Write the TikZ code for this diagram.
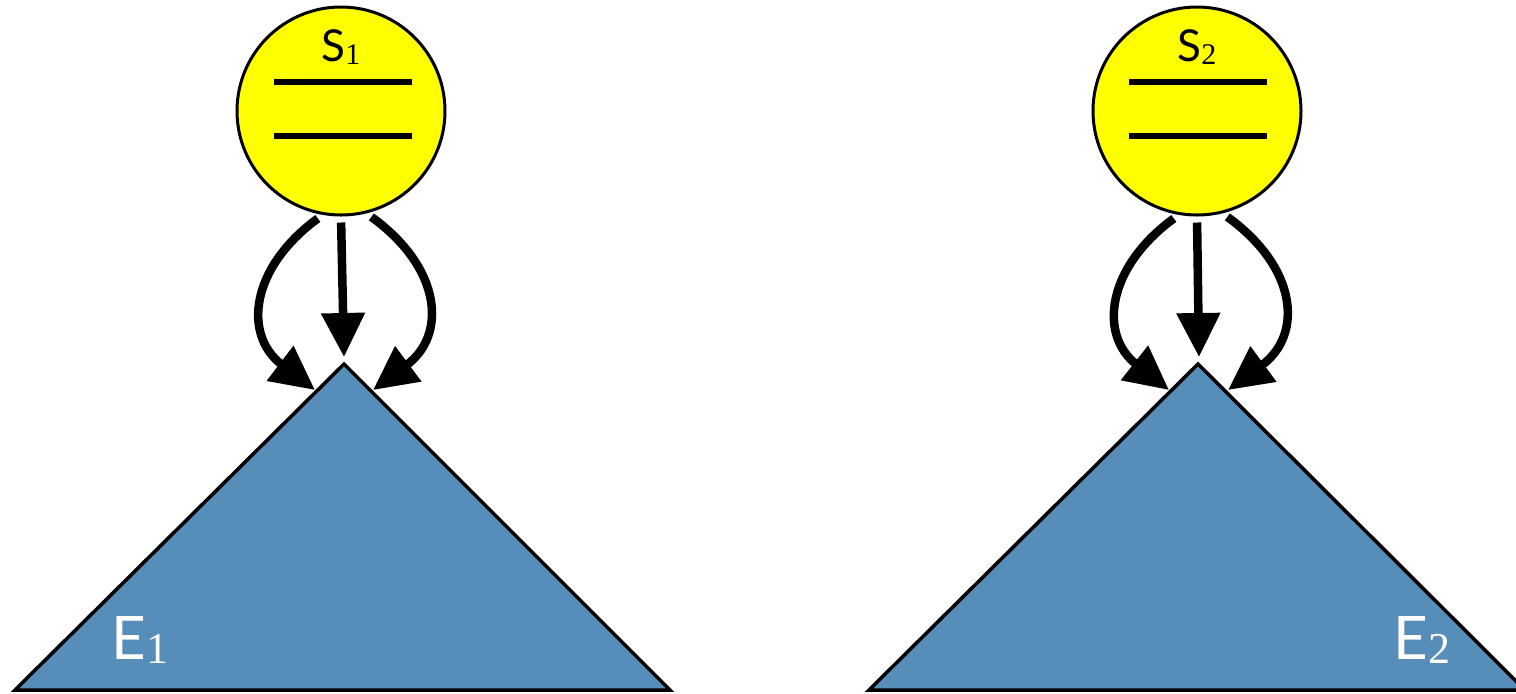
\documentclass[tikz,border=0pt]{standalone}
\usepackage{fontspec}
\usetikzlibrary{arrows.meta}
\newfontfamily\labelfont{Lato}
\newfontfamily\indexfont{Liberation Serif}
\definecolor{sunyellow}{RGB}{255,255,0}
\definecolor{treeblue}{RGB}{87,142,185}
\newcommand{\lowidx}[2]{\raisebox{-0.08em}{\indexfont\fontsize{#1}{#1}\selectfont #2}}

\begin{document}
\begin{tikzpicture}[x=0.5pt,y=-0.5pt]
% Define styles
\tikzstyle{state}=[circle, draw, line width=1.5pt, fill=sunyellow, minimum size=104pt, inner sep=0pt]
\tikzstyle{tree}=[draw, line width=1.75pt, fill=treeblue, line join=miter]
\tikzstyle{bar}=[line width=2.75pt]
\tikzstyle{arrow}=[line width=4.25pt, shorten <=3pt, -{Triangle[length=22pt,width=21pt]}]
\useasboundingbox (0,0) rectangle (1516,693);
% Trees
\draw[tree] (344,364) -- (670,690) -- (15,690) -- cycle;
\draw[tree] (1198,364) -- (1525,690) -- (869,690) -- cycle;
\node[text=white, font=\labelfont\fontsize{30pt}{30pt}\selectfont] (e1) at (140,640) {E\lowidx{22pt}{1}};
\node[text=white, font=\labelfont\fontsize{30pt}{30pt}\selectfont] (e2) at (1422,640) {E\lowidx{22pt}{2}};
% Arrow targets
\coordinate (t1l) at (315,390);
\coordinate (t1m) at (344,357);
\coordinate (t1r) at (373,390);
\coordinate (t2l) at (1169,390);
\coordinate (t2m) at (1199,357);
\coordinate (t2r) at (1228,390);
% States
\node[state] (s1) at (341,111) {};
\node[state] (s2) at (1197,111) {};
\draw[bar] (274,82) -- (412,82);
\draw[bar] (274,136) -- (412,136);
\draw[bar] (1129,82) -- (1267,82);
\draw[bar] (1129,136) -- (1267,136);
\node[font=\labelfont\fontsize{22pt}{22pt}\selectfont] (l1) at (341,47) {S\lowidx{15pt}{1}};
\node[font=\labelfont\fontsize{22pt}{22pt}\selectfont] (l2) at (1197,47) {S\lowidx{15pt}{2}};
% Draw arrows
\draw[arrow] (s1.260) .. controls (250,268) and (243,335) .. (t1l);
\draw[arrow] (s1.south) -- (t1m);
\draw[arrow] (s1.284) .. controls (442,268) and (447,335) .. (t1r);
\draw[arrow] (s2.260) .. controls (1106,268) and (1099,335) .. (t2l);
\draw[arrow] (s2.south) -- (t2m);
\draw[arrow] (s2.284) .. controls (1298,268) and (1303,335) .. (t2r);
\end{tikzpicture}
\end{document}
